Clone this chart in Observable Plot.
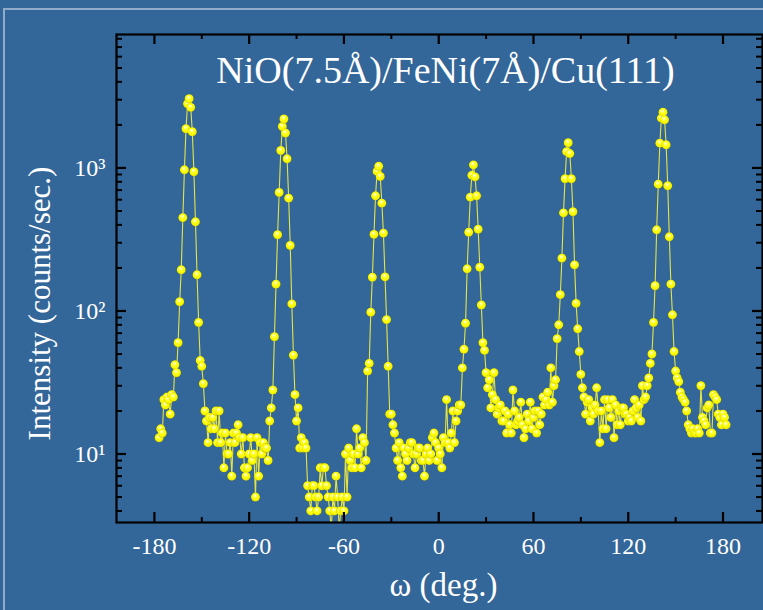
<!DOCTYPE html>
<html>
<head>
<meta charset="utf-8">
<script src="https://cdn.jsdelivr.net/npm/d3@7"></script>
<script src="https://cdn.jsdelivr.net/npm/@observablehq/plot@0.6"></script>
<style>
  html, body { margin: 0; padding: 0; background: #336699; width: 763px; height: 610px; overflow: hidden; }
  #frameDeco { position: absolute; left: 3px; top: 8px; width: 800px; height: 700px;
               border-top: 2px solid #93abcb; border-left: 2px solid #93abcb; }
  #chart { position: absolute; left: 0; top: 0; }
  #chart svg text { font-family: 'Liberation Serif', 'Times New Roman', serif !important; }
</style>
</head>
<body>
<div id="frameDeco"></div>
<div id="chart"></div>
<script>
// ---- data (omega step 1 deg, each segment starts at the given angle) ----
const segStarts = [-177, -117, -57, 3, 63, 123];
const seg1 = [13,15,14,24,22,25,24,19,26,25,
              42,37,60,116,194,449,970,1880,2810,3050,
              2650,1790,940,420,179,83,45,41,31,20,
              17,12,18,15,18,15,20,12,20,12,
              14,8,14,10,10,12,7,14,12,14,
              16,13,10,13,8,7,8,10,13,9];
const seg2 = [10,5,13,7,12,10,12,11,11,9,
              17,21,28,66,154,341,674,1325,1950,2200,
              1754,1158,615,287,112,49,26,17,21,11,
              13,11,12,11,6,5,4,6,6,5,
              4,5,8,6,8,8,6,5,4,3,
              5,4,7,5,3,4,5,4,10,5];
const seg3 = [11,9,8,10,8,15,10,11,8,13,
              12,9,38,43,98,172,343,638,946,1026,
              872,567,350,173,87,41,19,19,16,14,
              11,9,12,8,7,11,10,9,11,12,
              12,10,8,10,11,11,9,9,7,10,
              11,9,10,13,14,12,9,11,10,8];
const seg4 = [13,12,24,12,11,14,20,12,17,20,
              22,22,40,54,82,197,355,625,888,1050,
              866,638,373,202,110,60,53,37,29,33,
              21,26,37,24,19,21,22,17,17,20,
              14,19,16,14,28,20,16,17,18,23,
              16,13,15,19,17,23,15,18,20,14];
const seg5 = [20,16,19,25,22,24,27,22,40,23,
              30,33,64,80,130,234,485,840,1300,1500,
              1260,840,494,210,113,75,52,36,29,25,
              19,23,24,17,21,19,22,29,20,12,
              20,15,24,15,24,21,18,24,13,22,
              16,20,16,21,21,19,19,17,18,17];
const seg6 = [20,24,21,18,22,17,30,24,25,30,
              34,43,50,83,150,369,770,1490,2230,2450,
              2170,1450,750,330,154,94,52,38,34,32,
              27,25,24,23,20,16,15,14,15,14,
              14,15,14,30,18,17,16,21,22,14,
              14,26,25,24,19,18,16,19,18,16];

const xMajorTicks = [-180, -120, -60, 0, 60, 120, 180];
const xMinorTicks = [-150, -90, -30, 30, 90, 150];
const yMajorTicks = [10, 100, 1000];
const yMinorTicks = [4,5,6,7,8,9, 20,30,40,50,60,70,80,90, 200,300,400,500,600,700,800,900, 2000,3000,4000,5000,6000,7000,8000];
const yTickLabels = ["10\u00B9", "10\u00B2", "10\u00B3"];
const titleText = "NiO(7.5Å)/FeNi(7Å)/Cu(111)";
const xLabel = "ω (deg.)";
const yLabel = "Intensity (counts/sec.)";

const segments = [seg1, seg2, seg3, seg4, seg5, seg6];
const scan = segments.flatMap((arr, k) => arr.map((v, i) => ({omega: segStarts[k] + i, counts: v})));

// ---- layout ----
const W = 763, H = 610;
const mL = 116, mR = 1, mT = 34, mB = 88;
const frameW = W - mL - mR, frameH = H - mT - mB;
const FONT = "'Liberation Serif', 'Times New Roman', serif";

const defs = () => {
  const ns = "http://www.w3.org/2000/svg";
  const d = document.createElementNS(ns, "defs");
  const g = document.createElementNS(ns, "radialGradient");
  g.setAttribute("id", "ballGrad");
  g.setAttribute("cx", "0.5"); g.setAttribute("cy", "0.5"); g.setAttribute("r", "0.55");
  g.setAttribute("fx", "0.42"); g.setAttribute("fy", "0.3");
  [["0", "#ffffff"], ["0.22", "#ffff9a"], ["0.45", "#ffff10"], ["0.8", "#f2f200"], ["1", "#a8a000"]].forEach(([o, c]) => {
    const s = document.createElementNS(ns, "stop");
    s.setAttribute("offset", o); s.setAttribute("stop-color", c);
    g.appendChild(s);
  });
  d.appendChild(g);
  return d;
};

const chart = Plot.plot({
  width: W, height: H,
  marginLeft: mL, marginRight: mR, marginTop: mT, marginBottom: mB,
  style: {background: "transparent", color: "white", fontFamily: FONT},
  x: {domain: [-204, 205], label: null},
  y: {type: "log", domain: [3.32, 8570], label: null},
  marks: [
    defs,
    Plot.line(scan, {x: "omega", y: "counts", stroke: "#e4e448", strokeWidth: 1.1, clip: true}),
    Plot.dot(scan, {x: "omega", y: "counts", r: 4.5, fill: "url(#ballGrad)", stroke: null, clip: true}),
    Plot.frame({stroke: "black", strokeWidth: 2.2}),
    // inward ticks
    Plot.tickX(xMajorTicks, {x: d => d, insetTop: frameH - 10, stroke: "black", strokeWidth: 2.2}),
    Plot.tickX(xMinorTicks, {x: d => d, insetTop: frameH - 5, stroke: "black", strokeWidth: 2}),
    Plot.tickX(xMajorTicks, {x: d => d, insetBottom: frameH - 10, stroke: "black", strokeWidth: 2.2}),
    Plot.tickX(xMinorTicks, {x: d => d, insetBottom: frameH - 5, stroke: "black", strokeWidth: 2}),
    Plot.tickY(yMajorTicks, {y: d => d, insetRight: frameW - 10, stroke: "black", strokeWidth: 2.2}),
    Plot.tickY(yMinorTicks, {y: d => d, insetRight: frameW - 6, stroke: "black", strokeWidth: 2}),
    Plot.tickY(yMajorTicks, {y: d => d, insetLeft: frameW - 10, stroke: "black", strokeWidth: 2.2}),
    Plot.tickY(yMinorTicks, {y: d => d, insetLeft: frameW - 6, stroke: "black", strokeWidth: 2}),
    // tick labels
    Plot.axisX({ticks: xMajorTicks, tickSize: 0, tickPadding: 14, fontSize: 24, fill: "white", tickFormat: d => String(d), label: null}),
    Plot.axisY({ticks: yMajorTicks, tickSize: 0, tickPadding: 11, fontSize: 24, fill: "white",
                tickFormat: d => yTickLabels[yMajorTicks.indexOf(d)], label: null}),
    // title and axis labels
    Plot.text([titleText], {text: d => d, frameAnchor: "top", lineAnchor: "middle", textAnchor: "middle", dx: 6, dy: 36, fill: "white", fontSize: 38, fontFamily: FONT}),
    Plot.text([xLabel], {text: d => d, frameAnchor: "bottom", lineAnchor: "middle", textAnchor: "middle", dx: 4, dy: 63, fill: "white", fontSize: 33, fontFamily: FONT}),
    Plot.text([yLabel], {text: d => d, frameAnchor: "left", lineAnchor: "middle", textAnchor: "middle", dx: -76, dy: 25, rotate: -90, fill: "white", fontSize: 31, fontFamily: FONT})
  ]
});
document.getElementById("chart").appendChild(chart);
</script>
</body>
</html>
